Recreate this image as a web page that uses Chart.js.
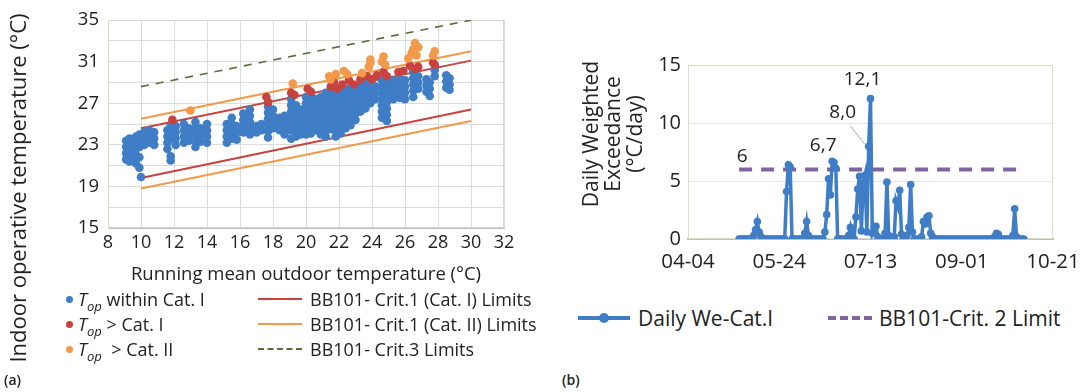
<!DOCTYPE html>
<html>
<head>
<meta charset="utf-8">
<script src="https://cdn.jsdelivr.net/npm/chart.js@4.4.1/dist/chart.umd.min.js"></script>
<style>
  body { margin: 0; width: 1090px; height: 392px; position: relative; overflow: hidden; background: #fff; font-family: 'Open Sans', sans-serif; color: #222; }
  canvas { position: absolute; top: 0; }
  .rot { position: absolute; text-align: center; transform: rotate(-90deg); white-space: nowrap; }
  .row { position: absolute; height: 22px; line-height: 22px; font-size: 18px; white-space: nowrap; }
  .dot { position: absolute; width: 7px; height: 7px; border-radius: 50%; top: 8px; }
  .swatch { position: absolute; top: 10px; height: 0; }
  sub { font-size: 13px; vertical-align: -5px; line-height: 0; }
  .tag { position: absolute; font-size: 14px; font-weight: 600; }
</style>
</head>
<body>
<canvas id="chartA" width="540" height="292" style="left:0"></canvas>
<canvas id="chartB" width="530" height="292" style="left:560px"></canvas>

<div class="rot" style="left:-183px; top:176px; width:400px; font-size:22px; line-height:24px;">Indoor operative temperature (°C)</div>
<div class="rot" style="left:527px; top:101px; width:170px; font-size:21px; line-height:22px;">Daily Weighted<br>Exceedance<br>(°C/day)</div>

<!-- legend (a) -->
<div class="row" style="left:66px; top:288px;"><span class="dot" style="left:0; background:#3f7ec6"></span><span style="margin-left:12px"><i>T</i><sub><i>op</i></sub> within Cat. I</span></div>
<div class="row" style="left:66px; top:313px;"><span class="dot" style="left:0; background:#c8423f"></span><span style="margin-left:12px"><i>T</i><sub><i>op</i></sub> &gt; Cat. I</span></div>
<div class="row" style="left:66px; top:338px;"><span class="dot" style="left:0; background:#f2994a"></span><span style="margin-left:12px"><i>T</i><sub><i>op</i></sub>&nbsp; &gt; Cat. II</span></div>
<div class="row" style="left:258px; top:288px;"><span class="swatch" style="left:0; width:44px; border-top:2px solid #c8423f"></span><span style="margin-left:52px">BB101- Crit.1 (Cat. I) Limits</span></div>
<div class="row" style="left:258px; top:313px;"><span class="swatch" style="left:0; width:44px; border-top:2px solid #f2994a"></span><span style="margin-left:52px">BB101- Crit.1 (Cat. II) Limits</span></div>
<div class="row" style="left:258px; top:338px;"><span class="swatch" style="left:0; width:44px; border-top:2px dashed #5b6b3c"></span><span style="margin-left:52px">BB101- Crit.3 Limits</span></div>
<div class="tag" style="left:4px; top:370px;">(a)</div>

<!-- legend (b) -->
<div class="row" style="left:578px; top:307px; font-size:21px;"><span class="swatch" style="left:0; width:52px; border-top:4px solid #3f7ec6; top:9px"></span><span class="dot" style="left:21px; top:6px; width:10px; height:10px; background:#3f7ec6"></span><span style="margin-left:60px">Daily We-Cat.I</span></div>
<div class="row" style="left:828px; top:307px; font-size:21px;"><span class="swatch" style="left:0; width:44px; border-top:4px dashed #8064a2; top:9px"></span><span style="margin-left:51px">BB101-Crit. 2 Limit</span></div>
<div class="tag" style="left:562px; top:370px;">(b)</div>

<script>
// ---- (a) adaptive comfort scatter ----
var xTicksA = [8, 10, 12, 14, 16, 18, 20, 22, 24, 26, 28, 30, 32];
var yTicksA = [15, 19, 23, 27, 31, 35];

// each row: running mean outdoor temp, then the hourly Top values seen at it
var withinCatI = [
  [9.1, 23.4, 22.8, 22.2, 21.6],
  [9.3, 23.6, 23.0, 22.4, 21.4],
  [9.5, 23.2, 22.6, 22.0, 21.6],
  [9.7, 23.8, 23.2, 22.6, 22.0, 21.2],
  [9.9, 24.0, 23.4, 22.8, 21.8, 20.8],
  [10.0, 19.9],
  [10.2, 24.2, 23.6, 23.0],
  [10.5, 24.4, 23.8, 23.2],
  [10.8, 24.2, 23.6, 23.0],
  [11.6, 24.4, 23.8, 23.2, 22.6],
  [11.8, 24.8, 24.2, 23.6, 21.9, 21.5],
  [12.1, 24.8, 24.2, 23.6, 23.0],
  [12.6, 25.0, 24.4, 23.8, 23.2],
  [12.9, 24.6, 24.0, 23.4],
  [13.3, 25.2, 24.6, 24.0, 23.4, 22.8],
  [13.6, 24.6, 24.0, 23.3],
  [14.0, 25.0, 24.4, 23.8, 23.2],
  [15.2, 25.0, 24.4, 23.8, 23.2],
  [15.5, 25.6, 25.0, 24.3, 23.6],
  [15.8, 24.8, 24.2, 23.5],
  [16.2, 26.0, 25.4, 24.8, 24.2],
  [16.6, 26.4, 25.8, 25.2, 24.6, 24.0],
  [17.0, 24.8, 24.2],
  [17.3, 25.0, 24.4],
  [17.7, 26.7, 26.1, 25.5, 24.9, 24.3, 23.7],
  [18.0, 26.4, 25.8, 25.2, 24.6],
  [18.4, 25.6, 25.0, 24.4],
  [18.7, 25.8, 25.2, 24.6, 24.0],
  [19.1, 27.4, 26.8, 26.2, 25.6, 25.0, 24.4, 23.6],
  [19.4, 26.8, 26.2, 25.6, 25.0, 24.4, 23.8],
  [19.7, 26.4, 25.8, 25.2, 24.6, 24.0],
  [20.0, 27.6, 27.0, 26.4, 25.8, 25.2, 24.6, 24.0],
  [20.3, 27.7, 27.1, 26.5, 25.9, 25.3, 24.7, 24.1],
  [20.6, 27.4, 26.8, 26.2, 25.6, 25.0, 24.4],
  [20.9, 27.6, 27.0, 26.4, 25.8, 25.2, 24.6, 24.0],
  [21.2, 28.0, 27.4, 26.8, 26.2, 25.6, 25.0, 24.4, 23.8],
  [21.5, 28.1, 27.5, 26.9, 26.3, 25.7, 25.1, 24.5],
  [21.8, 28.0, 27.4, 26.8, 26.2, 25.6, 25.0, 24.4, 23.8],
  [22.1, 28.3, 27.7, 27.1, 26.5, 25.9, 25.3, 24.7, 24.1],
  [22.4, 28.2, 27.6, 27.0, 26.4, 25.8, 25.2, 24.6],
  [22.7, 28.5, 27.9, 27.3, 26.7, 26.1, 25.5, 24.9],
  [23.0, 28.4, 27.8, 27.2, 26.6, 26.0, 25.4],
  [23.3, 28.6, 28.0, 27.4, 26.8, 26.2],
  [23.6, 28.9, 28.3, 27.7, 27.1, 26.5],
  [23.9, 28.8, 28.2, 27.6, 27.0],
  [24.2, 28.6, 28.0, 27.4],
  [24.6, 29.2, 28.6, 28.0, 27.4, 26.8, 26.2, 25.6],
  [24.9, 28.9, 28.3, 27.7, 27.1, 26.5, 25.9, 25.3],
  [25.3, 29.2, 28.6, 28.0, 27.4],
  [25.7, 29.3, 28.7, 28.1, 27.5],
  [26.0, 29.2, 28.6, 28.0, 27.4],
  [26.5, 30.0, 29.4, 28.8, 28.2, 27.6],
  [26.8, 29.6, 29.0, 28.4],
  [27.3, 29.3, 28.7, 28.1],
  [27.5, 29.0, 28.4, 27.7],
  [27.8, 30.2, 29.6],
  [28.5, 29.7, 29.1, 28.5],
  [28.7, 29.4, 28.8, 28.3]
];

var aboveCatI = [
  [11.9, 25.4], [17.6, 27.6], [17.7, 27.1], [19.1, 28.0], [19.3, 27.8],
  [20.1, 28.4], [20.3, 28.1], [21.5, 28.6], [21.7, 29.0], [21.9, 28.4],
  [22.2, 28.8], [22.6, 29.2], [22.9, 28.8], [23.3, 29.3], [23.7, 29.6],
  [24.0, 29.3], [24.3, 29.7], [24.7, 30.0], [24.9, 29.6], [25.6, 30.0],
  [25.9, 30.1], [26.3, 30.6], [26.6, 30.3], [26.8, 30.5], [27.7, 30.9],
  [27.8, 30.7]
];

var aboveCatII = [
  [13.0, 26.3], [19.2, 28.9], [21.4, 29.6], [21.5, 29.3], [21.8, 29.8],
  [22.3, 30.1], [22.5, 29.8], [23.4, 29.9], [23.8, 30.5], [23.9, 30.9],
  [23.9, 31.2], [24.6, 31.0], [24.7, 31.5], [24.8, 30.7], [26.2, 31.3],
  [26.4, 31.8], [26.5, 32.2], [26.6, 32.8], [26.7, 31.6], [26.8, 32.4],
  [27.7, 31.6], [27.8, 32.0]
];

// BB101 limit lines, given at the two ends of the running mean range
var limitT = [10, 30];
var cat1Upper = [24.6, 31.1];
var cat1Lower = [19.8, 26.4];
var cat2Upper = [25.5, 32.0];
var cat2Lower = [18.8, 25.3];
var crit3Limit = [28.6, 35.0];

// ---- (b) daily weighted exceedance ----
var dateTicks = ['04-04', '05-24', '07-13', '09-01', '10-21'];
var firstDay = 28;   // days after 04-04
var weDaily = [
  0, 0, 0, 0, 0, 0, 0, 0, 0.3, 0.8, 1.5, 0.6, 0.2,
  0, 0, 0, 0, 0, 0, 0, 0, 0, 0, 0, 0, 0, 4.1, 6.4, 6.2, 0,
  0, 0, 0, 0, 0, 0, 0.5, 1.5, 0.3, 0, 0, 0, 0, 0, 0, 0, 0,
  0.6, 2.1, 5.2, 3.8, 6.7, 6.6, 6.1, 0, 0, 0, 0, 0, 0,
  0.3, 1.0, 0.2, 0, 1.9, 4.3, 5.4, 0.7, 4.8, 5.5, 0.6, 8.0, 12.1, 0.5,
  1.0, 1.1, 0.2, 0, 0, 0, 0.5, 4.9, 0.3, 0, 0, 0.2, 3.3, 2.8, 4.2, 0.4, 0,
  0, 0.3, 1.0, 4.7, 0.6, 0, 0, 0, 0, 0.2, 1.5, 1.3, 1.9, 2.0, 0.5, 0.2,
  0, 0, 0, 0, 0, 0, 0, 0, 0, 0, 0, 0, 0, 0, 0, 0, 0,
  0, 0, 0, 0, 0, 0, 0, 0, 0, 0, 0, 0, 0, 0, 0, 0,
  0.2, 0.5, 0.4, 0, 0, 0, 0, 0, 0, 0, 0.3, 2.6, 0.2, 0, 0, 0, 0
];
var limitValue = 6;
var labelledDays = [79, 99, 100];

var FONT = "'Open Sans', sans-serif";
var lastDay = firstDay + weDaily.length - 1;

function toPoints(pairs) {
  return pairs.map(function (p) { return { x: p[0], y: p[1] }; });
}
function columnsToPoints(cols) {
  var out = [];
  cols.forEach(function (c) {
    for (var i = 1; i < c.length; i++) out.push({ x: c[0], y: c[i] });
  });
  return out;
}
function limitLine(vals) {
  return limitT.map(function (t, i) { return { x: t, y: vals[i] }; });
}

// light frame around the plot area
var plotFrame = {
  id: 'plotFrame',
  beforeDatasetsDraw: function (chart, args, opts) {
    var a = chart.chartArea, ctx = chart.ctx;
    ctx.save();
    ctx.strokeStyle = opts.color;
    ctx.lineWidth = 1;
    ctx.strokeRect(a.left + 0.5, a.top + 0.5, a.right - a.left - 1, a.bottom - a.top - 1);
    ctx.restore();
  }
};

var pointStyle = function (color) {
  return { pointRadius: 4.3, pointBackgroundColor: color, pointBorderWidth: 0, showLine: false };
};

new Chart(document.getElementById('chartA'), {
  type: 'scatter',
  data: {
    datasets: [
      Object.assign({ label: 'Top > Cat. II', data: toPoints(aboveCatII) }, pointStyle('#f2994a')),
      Object.assign({ label: 'Top > Cat. I', data: toPoints(aboveCatI) }, pointStyle('#c8423f')),
      Object.assign({ label: 'Top within Cat. I', data: columnsToPoints(withinCatI) }, pointStyle('#3f7ec6')),
      { label: 'BB101- Crit.1 (Cat. I) Limits', data: limitLine(cat1Upper), showLine: true, borderColor: '#c8423f', borderWidth: 2, pointRadius: 0 },
      { label: 'cat1 lower', data: limitLine(cat1Lower), showLine: true, borderColor: '#c8423f', borderWidth: 2, pointRadius: 0 },
      { label: 'BB101- Crit.1 (Cat. II) Limits', data: limitLine(cat2Upper), showLine: true, borderColor: '#f2994a', borderWidth: 2, pointRadius: 0 },
      { label: 'cat2 lower', data: limitLine(cat2Lower), showLine: true, borderColor: '#f2994a', borderWidth: 2, pointRadius: 0 },
      { label: 'BB101- Crit.3 Limits', data: limitLine(crit3Limit), showLine: true, borderColor: '#5b6b3c', borderWidth: 1.6, borderDash: [8, 7], pointRadius: 0 }
    ]
  },
  options: {
    responsive: false,
    animation: false,
    layout: { padding: { left: 0, right: 36, top: 17, bottom: 0 } },
    plugins: { legend: { display: false }, tooltip: { enabled: false }, plotFrame: { color: '#ddd6c8' } },
    scales: {
      x: {
        type: 'linear', min: 8, max: 32,
        ticks: { stepSize: 2, autoSkip: false, maxRotation: 0, padding: 4, color: '#222', font: { family: FONT, size: 18 },
          callback: function (v) { return xTicksA.indexOf(v) >= 0 ? v : ''; } },
        grid: { color: '#dcdcdc', drawTicks: false },
        border: { color: '#bdbdbd' },
        title: { display: true, text: 'Running mean outdoor temperature (°C)', color: '#222', font: { family: FONT, size: 18.5 }, padding: { top: 2, bottom: 6 } },
        afterFit: function (s) { s.height = 64; }
      },
      y: {
        min: 15, max: 35,
        ticks: { stepSize: 2, autoSkip: false, padding: 9, color: '#222', font: { family: FONT, size: 18.5 },
          callback: function (v) { return yTicksA.indexOf(v) >= 0 ? v : ''; } },
        grid: { color: '#dcdcdc', drawTicks: false },
        border: { color: '#dcdcdc' },
        afterFit: function (s) { s.width = 108; }
      }
    }
  },
  plugins: [plotFrame]
});

// value labels on the peaks of the daily series, plus the limit value
var peakLabels = {
  id: 'peakLabels',
  afterDatasetsDraw: function (chart) {
    var xs = chart.scales.x, ys = chart.scales.y, ctx = chart.ctx;
    var offsets = { 79: [-9, -16], 99: [-26, -34], 100: [-8, -19] };
    ctx.save();
    ctx.font = "19px " + FONT;
    ctx.fillStyle = '#222';
    ctx.textAlign = 'center';
    ctx.textBaseline = 'middle';
    labelledDays.forEach(function (d) {
      var v = weDaily[d - firstDay];
      var px = xs.getPixelForValue(d), py = ys.getPixelForValue(v);
      var o = offsets[d];
      ctx.fillText(v.toFixed(1).replace('.', ','), px + o[0], py + o[1]);
      if (d === 99) {
        ctx.strokeStyle = '#a6a6a6';
        ctx.lineWidth = 1;
        ctx.beginPath();
        ctx.moveTo(px + o[0] + 8, py + o[1] + 14);
        ctx.lineTo(px - 4, py - 2);
        ctx.stroke();
      }
    });
    ctx.fillText(String(limitValue), xs.getPixelForValue(firstDay) + 3, ys.getPixelForValue(limitValue) - 13);
    ctx.restore();
  }
};

new Chart(document.getElementById('chartB'), {
  type: 'line',
  data: {
    datasets: [
      { label: 'Daily We-Cat.I', data: weDaily.map(function (v, i) { return { x: firstDay + i, y: v }; }),
        borderColor: '#3f7ec6', backgroundColor: '#3f7ec6', borderWidth: 3.5, pointRadius: 3.8, pointBorderWidth: 0, tension: 0 },
      { label: 'BB101-Crit. 2 Limit', data: [{ x: firstDay, y: limitValue }, { x: lastDay, y: limitValue }],
        borderColor: '#8064a2', borderWidth: 4, borderDash: [13, 9], pointRadius: 0 }
    ]
  },
  options: {
    responsive: false,
    animation: false,
    layout: { padding: { left: 0, right: 37, top: 65, bottom: 0 } },
    plugins: { legend: { display: false }, tooltip: { enabled: false }, plotFrame: { color: '#dedbc4' } },
    scales: {
      x: {
        type: 'linear', min: 0, max: 200,
        ticks: { stepSize: 50, maxRotation: 0, padding: 3, color: '#222', font: { family: FONT, size: 20.5 },
          callback: function (v) { return dateTicks[v / 50]; } },
        grid: { display: false },
        border: { color: '#c9c29d', width: 2 },
        afterFit: function (s) { s.height = 53; }
      },
      y: {
        min: 0, max: 15,
        ticks: { stepSize: 5, padding: 7, color: '#222', font: { family: FONT, size: 20 } },
        grid: { color: function (c) { return c.tick.value === 0 ? '#c9c29d' : '#e6e6e6'; }, drawTicks: false },
        border: { display: false },
        afterFit: function (s) { s.width = 128; }
      }
    }
  },
  plugins: [plotFrame, peakLabels]
});
</script>
</body>
</html>
